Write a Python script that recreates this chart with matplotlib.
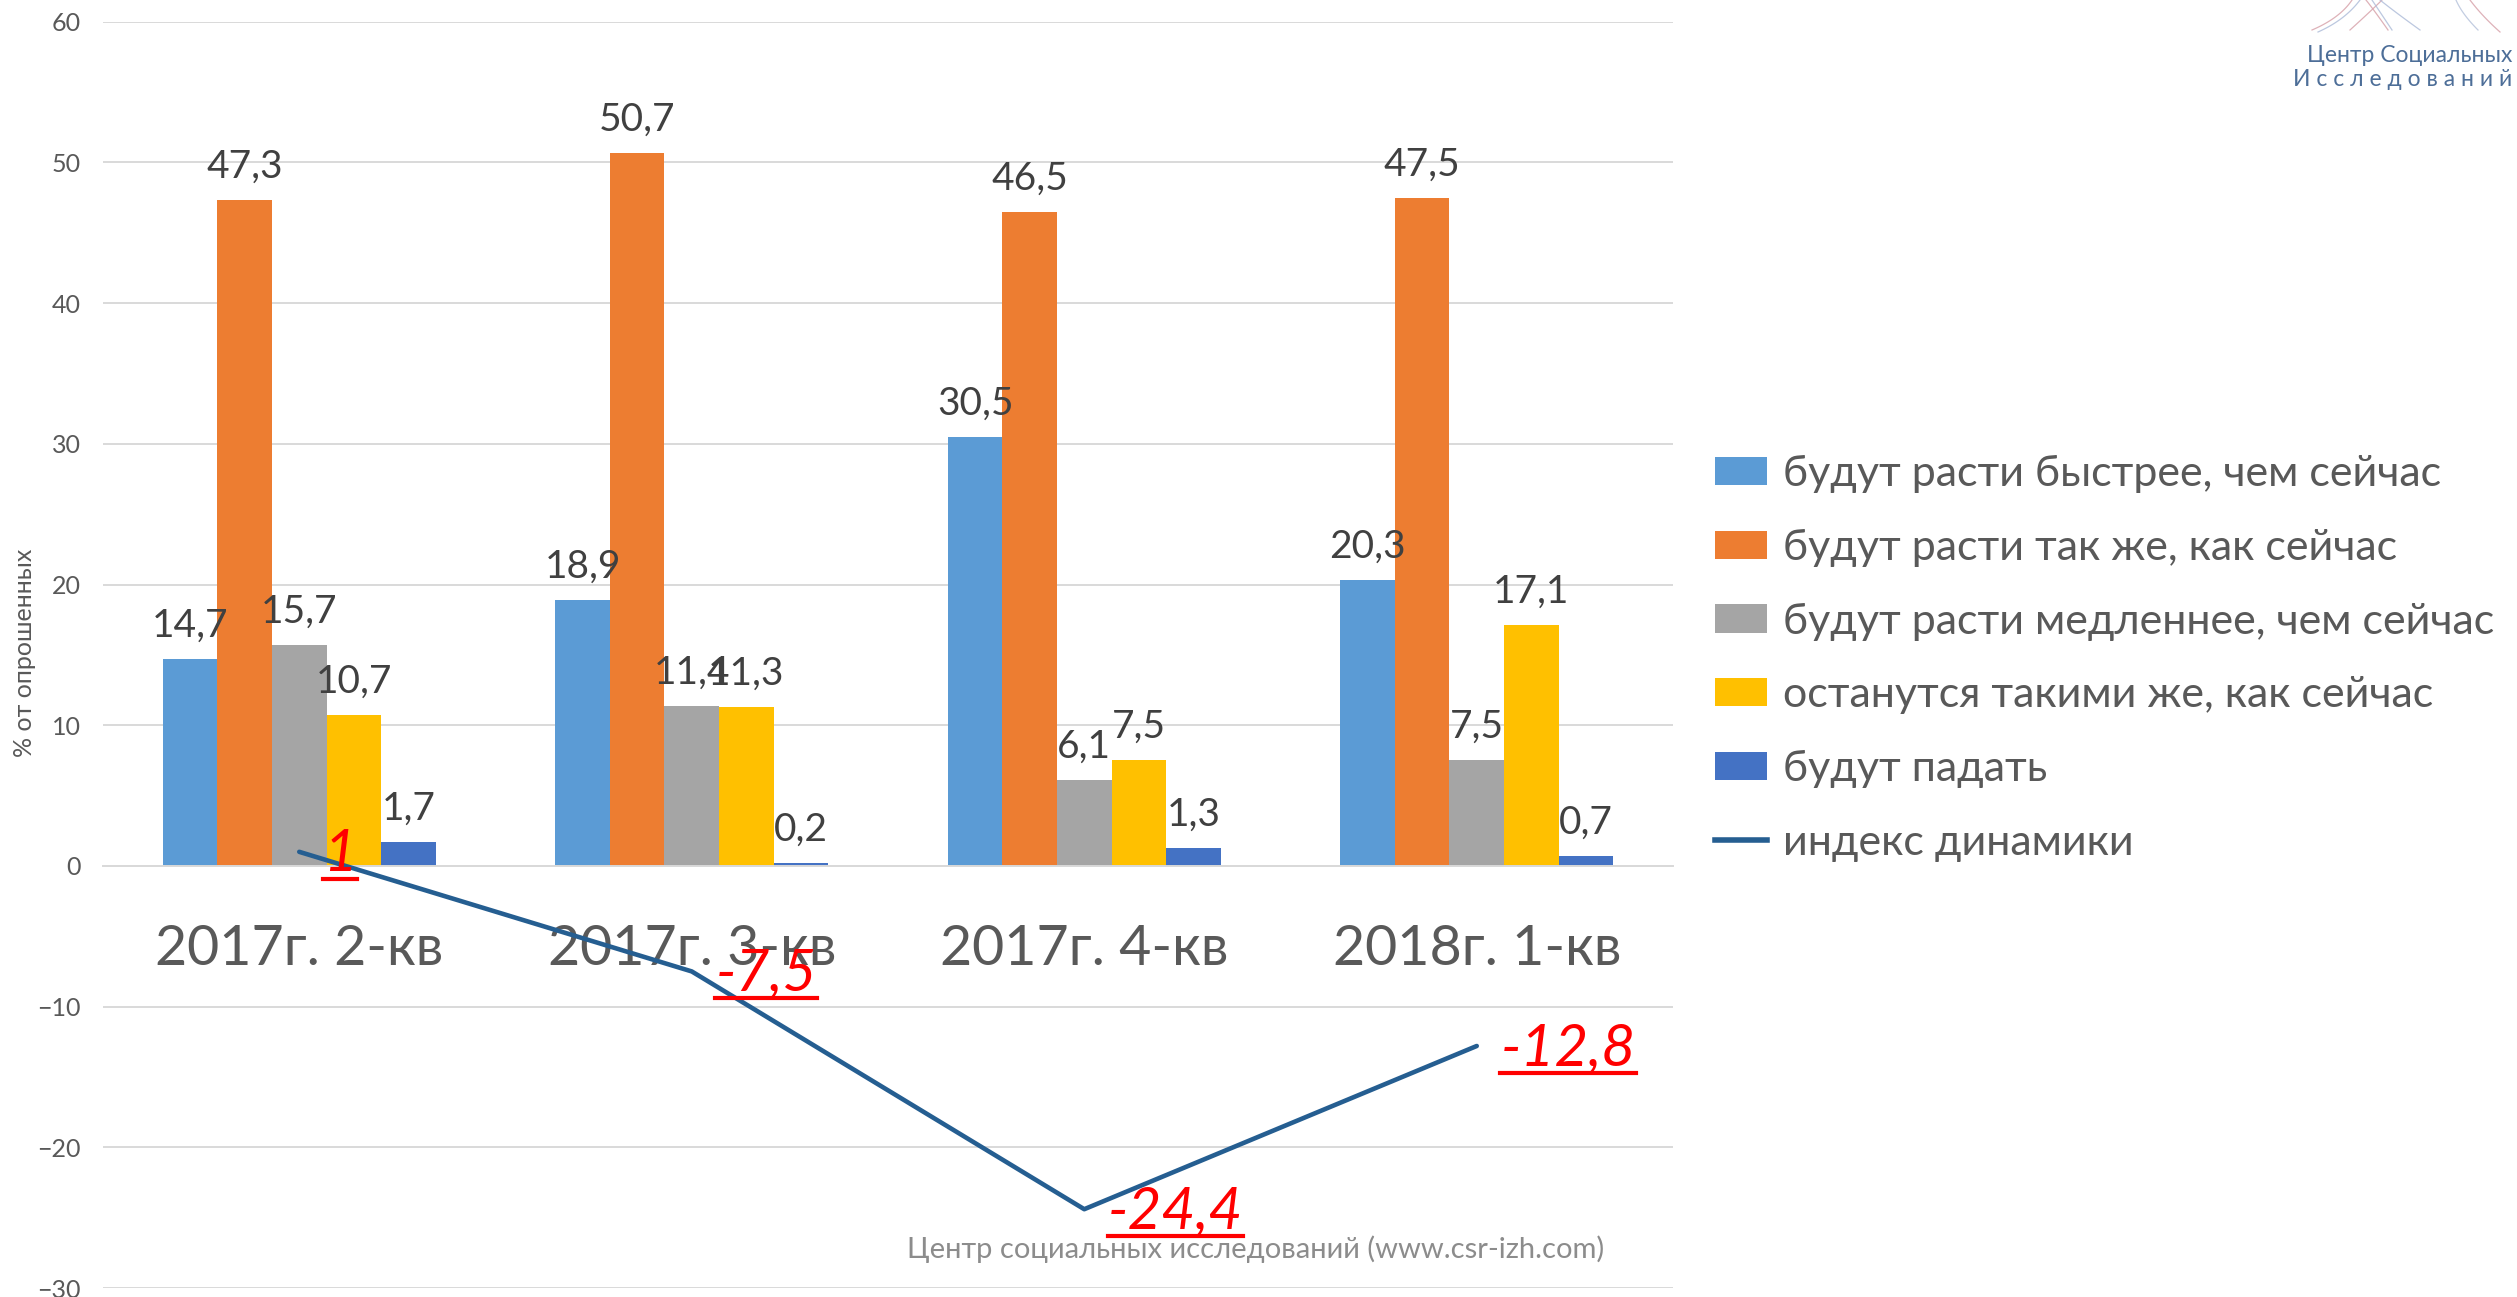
import matplotlib
matplotlib.use("Agg")
import matplotlib.pyplot as plt
from matplotlib.patches import Patch
from matplotlib.lines import Line2D
import numpy as np

plt.rcParams['font.family'] = ['Lato', 'DejaVu Sans']

categories = ["2017г. 2-кв", "2017г. 3-кв", "2017г. 4-кв", "2018г. 1-кв"]
series_names = ["будут расти быстрее, чем сейчас",
                "будут расти так же, как сейчас",
                "будут расти медленнее, чем сейчас",
                "останутся такими же, как сейчас",
                "будут падать"]
faster = [14.7, 18.9, 30.5, 20.3]
same_rate = [47.3, 50.7, 46.5, 47.5]
slower = [15.7, 11.4, 6.1, 7.5]
unchanged = [10.7, 11.3, 7.5, 17.1]
falling = [1.7, 0.2, 1.3, 0.7]
index_name = "индекс динамики"
index_values = [1, -7.5, -24.4, -12.8]
y_ticks = [-30, -20, -10, 0, 10, 20, 30, 40, 50, 60]

series = [faster, same_rate, slower, unchanged, falling]
colors = ["#5B9BD5", "#ED7D31", "#A5A5A5", "#FFC000", "#4472C4"]
line_color = "#255E91"
text_grey = "#595959"

def fmt(v):
    return f"{v:g}".replace(".", ",")

W, H = 2517, 1297
fig = plt.figure(figsize=(W / 100, H / 100), dpi=100)
ax = fig.add_axes([103 / W, 9 / H, 1570 / W, (1288 - 21.7) / H])

# axis setup first (spine repositioning resets ticks)
for s in ["top", "right", "left"]:
    ax.spines[s].set_visible(False)
ax.spines["bottom"].set_position(("data", 0))
ax.spines["bottom"].set_color("#D9D9D9")
ax.spines["bottom"].set_linewidth(1.4)

x = np.arange(len(categories))
bw = 0.139
for k, (vals, col, name) in enumerate(zip(series, colors, series_names)):
    pos = x + (k - 2) * bw
    ax.bar(pos, vals, width=bw, color=col, label=name, zorder=2)
    for p, v in zip(pos, vals):
        ax.annotate(fmt(v), xy=(p, v), xytext=(0, 16), textcoords="offset points",
                    ha="center", va="baseline", fontsize=28, color="#404040", zorder=5)

ax.plot(x, index_values, color=line_color, lw=3.3, solid_capstyle="round",
        zorder=4, label=index_name)
red_labels = []
for xi, v in zip(x, index_values):
    t = ax.annotate(fmt(v), xy=(xi, v), xytext=(17, -13.5), textcoords="offset points",
                    ha="left", va="baseline", fontsize=42, color="#FF0000",
                    style="italic", zorder=6)
    red_labels.append(t)

ax.set_xlim(-0.5, 3.5)
ax.set_ylim(-30, 60)
ax.set_yticks(y_ticks)
ax.set_xticks(x)
ax.set_xticklabels(categories, fontsize=40, color=text_grey)
ax.tick_params(axis="x", length=0, pad=42, labelsize=40, labelcolor=text_grey)
ax.tick_params(axis="y", length=0, pad=16, labelsize=18, labelcolor=text_grey)
ax.grid(axis="y", color="#D9D9D9", lw=1.4, zorder=0)
ax.set_axisbelow(True)

fig.text(25 / W, 1 - 653 / H, "% от опрошенных", rotation=90, ha="center", va="center",
         fontsize=18, color=text_grey)

fig.text(1256 / W, 1 - 1249 / H, "Центр социальных исследований (www.csr-izh.com)",
         ha="center", va="center", fontsize=21, color="#8C8C8C")

# logo
fig.text(2512 / W, 1 - 56 / H, "Центр Социальных", ha="right", va="center",
         fontsize=16.5, color="#4D6E98")
fig.text(2512 / W, 1 - 80 / H, "И с с л е д о в а н и й", ha="right", va="center",
         fontsize=16.5, color="#4D6E98")
logo_strokes = [((2312, 30), (2340, 18), (2352, 0), "#D8A4AC"),
                ((2318, 32), (2345, 20), (2360, 0), "#B0BEDA"),
                ((2350, 30), (2372, 10), (2382, 0), "#D8A4AC"),
                ((2392, 30), (2380, 12), (2372, 0), "#B0BEDA"),
                ((2388, 30), (2374, 10), (2366, 0), "#D8A4AC"),
                ((2420, 30), (2395, 12), (2380, 0), "#B0BEDA"),
                ((2478, 30), (2462, 14), (2456, 0), "#B8C4DC"),
                ((2500, 32), (2482, 16), (2470, 0), "#D8A4AC")]
tt = np.linspace(0, 1, 30)
for p0, p1, p2, c in logo_strokes:
    xs = (1 - tt) ** 2 * p0[0] + 2 * (1 - tt) * tt * p1[0] + tt ** 2 * p2[0]
    ys = (1 - tt) ** 2 * p0[1] + 2 * (1 - tt) * tt * p1[1] + tt ** 2 * p2[1]
    fig.add_artist(Line2D(xs / W, 1 - ys / H, color=c, lw=0.9, alpha=0.85))

handles = [Patch(facecolor=c, edgecolor="none") for c in colors]
handles.append(Line2D([0], [0], color=line_color, lw=4))
labels = series_names + [index_name]
leg = fig.legend(handles, labels, loc="upper left", bbox_to_anchor=(1715 / W, 1 - 455 / H),
                 frameon=False, fontsize=31, handlelength=1.2, handleheight=0.63,
                 handletextpad=0.37, labelspacing=0.83, borderpad=0, borderaxespad=0,
                 labelcolor=text_grey)

fig.canvas.draw()
r = fig.canvas.get_renderer()
for t in red_labels:
    bb = t.get_window_extent(r)
    y = bb.y0 + 2
    fig.add_artist(Line2D([bb.x0 / W, bb.x1 / W], [y / H, y / H], color="#FF0000", lw=3))

fig.savefig("out.png", dpi=100, facecolor="white")
